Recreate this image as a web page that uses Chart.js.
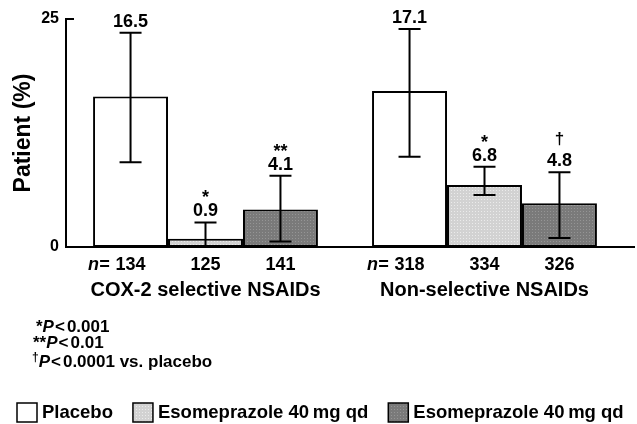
<!DOCTYPE html>
<html lang="en">
<head>
  <meta charset="UTF-8" />
  <title>Patients (%) by NSAID type</title>
  <script src="https://cdn.jsdelivr.net/npm/chart.js"></script>
  <style>
    body { margin: 0; background: #fff; }
    #wrap { width: 637px; height: 424px; }
  </style>
</head>
<body>
  <div id="wrap"><canvas id="chart" width="637" height="424"></canvas></div>

  <script>
    const FONT = '"Liberation Sans", Arial, Helvetica, sans-serif';

    // data
    const groups = ['COX-2 selective NSAIDs', 'Non-selective NSAIDs'];
    const seriesNames = ['Placebo', 'Esomeprazole 40\u2009mg qd', 'Esomeprazole 40\u2009mg qd'];
    const yTicks = [0, 25];

    const placebo = [16.5, 17.1];
    const esoA = [0.9, 6.8];
    const esoB = [4.1, 4.8];

    // error bar ends (low / high)
    const placeboLow = [9.3, 9.9];
    const placeboHigh = [23.5, 23.9];
    const esoALow = [0, 5.7];
    const esoAHigh = [2.7, 8.8];
    const esoBLow = [0.6, 1.0];
    const esoBHigh = [7.8, 8.2];

    const placeboN = [134, 318];
    const esoAN = [125, 334];
    const esoBN = [141, 326];

    const placeboSig = ['', ''];
    const esoASig = ['*', '*'];
    const esoBSig = ['**', '\u2020'];

    // small dotted fill like the print screen
    function dotted(base, dot) {
      const c = document.createElement('canvas');
      c.width = 3; c.height = 3;
      const g = c.getContext('2d');
      g.fillStyle = base;
      g.fillRect(0, 0, 3, 3);
      g.fillStyle = dot;
      g.fillRect(1, 1, 1, 1);
      return g.createPattern(c, 'repeat');
    }

    const fills = ['#ffffff', dotted('#d2d2d2', '#ebebeb'), dotted('#7a7a7a', '#959595')];

    function drawRuns(ctx, x, y, runs) {
      runs.forEach(r => {
        ctx.font = r.font;
        ctx.fillText(r.text, x, y + (r.dy || 0));
        x += ctx.measureText(r.text).width + (r.gap || 0);
      });
    }

    const extras = {
      id: 'extras',
      afterDatasetsDraw(chart) {
        const ctx = chart.ctx;
        const ys = chart.scales.y;
        const area = chart.chartArea;
        const y0 = ys.getPixelForValue(0);

        ctx.save();
        ctx.strokeStyle = '#000';
        ctx.fillStyle = '#000';
        ctx.lineWidth = 2;

        // baseline runs past the last group, inward tick at the top
        ctx.beginPath();
        ctx.moveTo(area.right - 2, y0);
        ctx.lineTo(635, y0);
        const yt = ys.getPixelForValue(yTicks[1]);
        ctx.moveTo(area.left, yt);
        ctx.lineTo(area.left + 8, yt);
        ctx.stroke();

        chart.data.datasets.forEach((ds, i) => {
          const meta = chart.getDatasetMeta(i);
          meta.data.forEach((bar, j) => {
            const x = bar.x;
            const top = ys.getPixelForValue(ds.errHigh[j]);
            const bot = ys.getPixelForValue(ds.errLow[j]);

            ctx.beginPath();
            ctx.moveTo(x, top);
            ctx.lineTo(x, bot);
            ctx.moveTo(x - 11, top);
            ctx.lineTo(x + 11, top);
            ctx.moveTo(x - 11, bot);
            ctx.lineTo(x + 11, bot);
            ctx.stroke();

            ctx.textAlign = 'center';
            ctx.textBaseline = 'alphabetic';
            ctx.font = 'bold 18px ' + FONT;
            ctx.fillText(ds.data[j].toFixed(1), x, top - 6);

            const sig = ds.sig[j];
            if (sig === '\u2020') {
              ctx.font = 'bold 17px ' + FONT;
              ctx.fillText(sig, x, top - 28);
            } else if (sig) {
              ctx.font = 'bold 18px ' + FONT;
              ctx.fillText(sig, x, top - 19);
            }

            // sample sizes under the axis
            ctx.font = 'bold 18px ' + FONT;
            ctx.textBaseline = 'middle';
            const label = String(ds.n[j]);
            ctx.fillText(label, x, y0 + 18);
            if (i === 0) {
              const w = ctx.measureText(label).width;
              ctx.textAlign = 'right';
              ctx.font = 'italic bold 18px ' + FONT;
              ctx.fillText('n=', x - w / 2 - 6, y0 + 18);
            }
          });
        });
        ctx.restore();
      },
      afterDraw(chart) {
        const ctx = chart.ctx;
        ctx.save();
        ctx.fillStyle = '#000';
        ctx.textAlign = 'left';
        ctx.textBaseline = 'alphabetic';

        const b = 'bold 17px ' + FONT;
        const bi = 'italic bold 17px ' + FONT;
        const sup = 'bold 12px ' + FONT;
        drawRuns(ctx, 36, 332, [
          { text: '*', font: b }, { text: 'P', font: bi, gap: 1 }, { text: '<', font: b, gap: 2 }, { text: '0.001', font: b }
        ]);
        drawRuns(ctx, 33, 348, [
          { text: '**', font: b }, { text: 'P', font: bi, gap: 1 }, { text: '<', font: b, gap: 2 }, { text: '0.01', font: b }
        ]);
        drawRuns(ctx, 32, 367, [
          { text: '\u2020', font: sup, dy: -6 }, { text: 'P', font: bi, gap: 1 }, { text: '<', font: b, gap: 2 },
          { text: '0.0001 vs. placebo', font: b }
        ]);

        // legend
        let x = 17;
        const top = 403;
        chart.data.datasets.forEach((ds, i) => {
          ctx.fillStyle = ds.backgroundColor;
          ctx.fillRect(x, top, 20, 19);
          ctx.strokeStyle = '#000';
          ctx.lineWidth = 1.5;
          ctx.strokeRect(x, top, 20, 19);
          ctx.fillStyle = '#000';
          ctx.font = 'bold 18.5px ' + FONT;
          ctx.textBaseline = 'middle';
          ctx.fillText(ds.label, x + 25, top + 10);
          x += 25 + ctx.measureText(ds.label).width + 20;
        });
        ctx.restore();
      }
    };

    function makeSet(label, data, low, high, n, sig, fill) {
      return {
        label: label,
        data: data,
        errLow: low,
        errHigh: high,
        n: n,
        sig: sig,
        backgroundColor: fill,
        borderColor: '#000',
        borderWidth: 2,
        borderSkipped: false,
        categoryPercentage: 0.806,
        barPercentage: 1
      };
    }

    new Chart(document.getElementById('chart'), {
      type: 'bar',
      data: {
        labels: groups,
        datasets: [
          makeSet(seriesNames[0], placebo, placeboLow, placeboHigh, placeboN, placeboSig, fills[0]),
          makeSet(seriesNames[1], esoA, esoALow, esoAHigh, esoAN, esoASig, fills[1]),
          makeSet(seriesNames[2], esoB, esoBLow, esoBHigh, esoBN, esoBSig, fills[2])
        ]
      },
      options: {
        responsive: false,
        animation: false,
        layout: { padding: { left: 10, right: 13, top: 19, bottom: 117 } },
        plugins: {
          legend: { display: false },
          tooltip: { enabled: false }
        },
        scales: {
          x: {
            grid: { display: false, drawTicks: false },
            border: { display: true, color: '#000', width: 2 },
            ticks: { color: '#000', font: { family: FONT, size: 20, weight: 'bold' }, padding: 31 },
            afterFit: s => { s.height = 60; }
          },
          y: {
            min: yTicks[0],
            max: yTicks[1],
            grid: { display: false, drawTicks: false },
            border: { display: true, color: '#000', width: 2 },
            ticks: { stepSize: 25, color: '#000', font: { family: FONT, size: 16, weight: 'bold' }, padding: 7 },
            title: {
              display: true,
              text: 'Patient (%)',
              color: '#000',
              font: { family: FONT, size: 23, weight: 'bold' },
              padding: 0
            },
            afterFit: s => { s.width = 56; }
          }
        }
      },
      plugins: [extras]
    });
  </script>
</body>
</html>
